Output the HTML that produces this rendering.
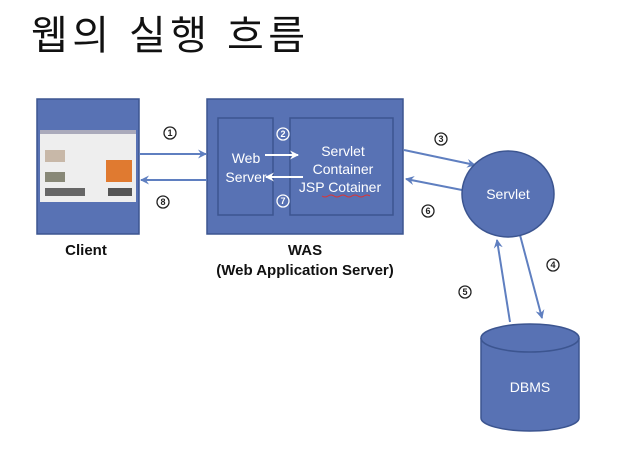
<!DOCTYPE html>
<html><head><meta charset="utf-8"><style>
body{margin:0;background:#fff;width:631px;height:453px;overflow:hidden}
</style></head><body>
<svg width="631" height="453" viewBox="0 0 631 453" xmlns="http://www.w3.org/2000/svg" font-family="Liberation Sans, sans-serif">
<defs><marker id="a" markerWidth="9" markerHeight="9" refX="8" refY="4.5" orient="auto" markerUnits="userSpaceOnUse"><path d="M0,0 L9,4.5 L0,9 L3,4.5 Z" fill="#5f7fc0"/></marker>
<marker id="w" markerWidth="9" markerHeight="9" refX="8" refY="4.5" orient="auto" markerUnits="userSpaceOnUse"><path d="M0,0 L9,4.5 L0,9 L3,4.5 Z" fill="#fff"/></marker></defs>
<text x="31" y="49" font-size="40" textLength="274" lengthAdjust="spacing" font-family="Liberation Sans, Noto Sans CJK KR, sans-serif" fill="#111">웹의 실행 흐름</text>
<rect x="37" y="99" width="102" height="135" fill="#5872b4" stroke="#3c5590" stroke-width="1.5"/>
<rect x="40" y="130" width="96" height="72" fill="#eeeeee"/>
<rect x="40" y="130" width="96" height="4" fill="#aab"/>
<rect x="106" y="160" width="26" height="22" fill="#e07a30"/>
<rect x="45" y="150" width="20" height="12" fill="#c8b8a8"/><rect x="45" y="172" width="20" height="10" fill="#887"/><rect x="45" y="188" width="40" height="8" fill="#666"/><rect x="108" y="188" width="24" height="8" fill="#555"/>
<rect x="207" y="99" width="196" height="135" fill="#5872b4" stroke="#3c5590" stroke-width="1.5"/>
<rect x="218" y="118" width="55" height="97" fill="#5872b4" stroke="#3c5590" stroke-width="1.5"/>
<rect x="290" y="118" width="103" height="97" fill="#5872b4" stroke="#3c5590" stroke-width="1.5"/>
<g fill="#fff" font-size="14" text-anchor="middle"><text x="246" y="163">Web</text><text x="246" y="182">Server</text>
<text x="343" y="156">Servlet</text><text x="343" y="174">Container</text><text x="340" y="192">JSP Cotainer</text></g>
<path d="M322 196 q3 2 6 0 q3 -2 6 0 q3 2 6 0 q3 -2 6 0 q3 2 6 0 q3 -2 6 0 q3 2 6 0 q3 -2 6 0" stroke="#d33" fill="none" stroke-width="1"/>
<line x1="265" y1="155" x2="298" y2="155" stroke="#fff" stroke-width="2" marker-end="url(#w)"/>
<line x1="303" y1="177" x2="266" y2="177" stroke="#fff" stroke-width="2" marker-end="url(#w)"/>
<g fill="#fff" stroke="#fff"><circle cx="283" cy="134" r="6" fill="none" stroke-width="1.3"/><circle cx="283" cy="201" r="6" fill="none" stroke-width="1.3"/></g>
<g fill="#fff" font-size="9" font-weight="bold" text-anchor="middle"><text x="283" y="137">2</text><text x="283" y="204">7</text></g>
<g fill="none" stroke="#5f7fc0" stroke-width="2">
<line x1="139" y1="154" x2="206" y2="154" marker-end="url(#a)"/>
<line x1="207" y1="180" x2="141" y2="180" marker-end="url(#a)"/>
<line x1="404" y1="150" x2="475" y2="165" marker-end="url(#a)"/>
<line x1="462" y1="190" x2="406" y2="179" marker-end="url(#a)"/>
<line x1="520" y1="235" x2="542" y2="318" marker-end="url(#a)"/>
<line x1="510" y1="322" x2="497" y2="240" marker-end="url(#a)"/>
</g>
<ellipse cx="508" cy="194" rx="46" ry="43" fill="#5872b4" stroke="#3c5590" stroke-width="1.5"/>
<text x="508" y="199" fill="#fff" font-size="14" text-anchor="middle">Servlet</text>
<path d="M481 338 L481 418 A49 13 0 0 0 579 418 L579 338" fill="#5872b4" stroke="#3c5590" stroke-width="1.5"/>
<ellipse cx="530" cy="338" rx="49" ry="14" fill="#5872b4" stroke="#3c5590" stroke-width="1.5"/>
<text x="530" y="392" fill="#fff" font-size="14" text-anchor="middle">DBMS</text>
<g fill="none" stroke="#222" stroke-width="1.3"><circle cx="170" cy="133" r="6"/><circle cx="163" cy="202" r="6"/><circle cx="441" cy="139" r="6"/><circle cx="428" cy="211" r="6"/><circle cx="553" cy="265" r="6"/><circle cx="465" cy="292" r="6"/></g>
<g fill="#222" font-size="9" font-weight="bold" text-anchor="middle"><text x="170" y="136">1</text><text x="163" y="205">8</text><text x="441" y="142">3</text><text x="428" y="214">6</text><text x="553" y="268">4</text><text x="465" y="295">5</text></g>
<g fill="#111" font-size="15" font-weight="bold" text-anchor="middle"><text x="86" y="255">Client</text><text x="305" y="255">WAS</text><text x="305" y="275">(Web Application Server)</text></g>
</svg>
</body></html>
